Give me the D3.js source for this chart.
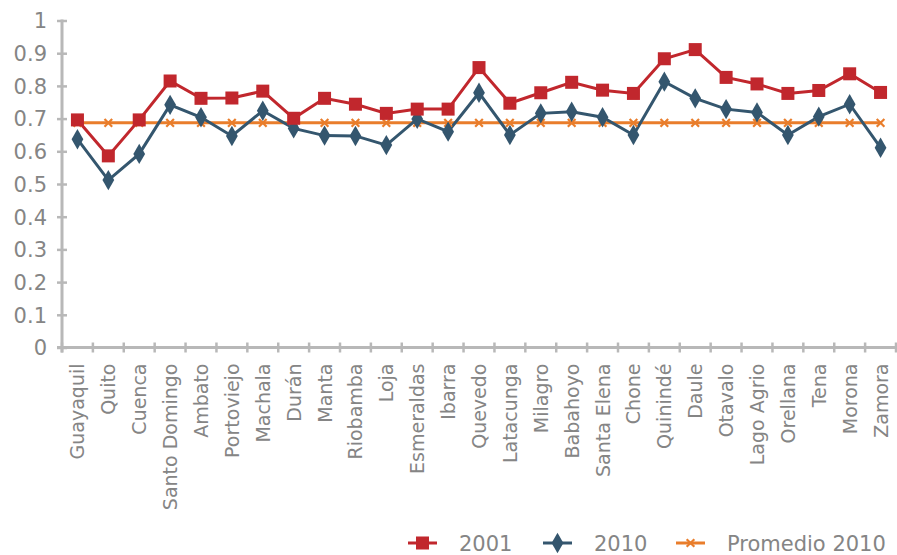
<!DOCTYPE html>
<html>
<head>
<meta charset="utf-8">
<script src="https://cdn.jsdelivr.net/npm/d3@7"></script>
<style>
  html, body { margin: 0; padding: 0; background: #fff; }
  svg { display: block; }
  text { font-family: "DejaVu Sans", sans-serif; fill: #858585; }
</style>
</head>
<body>
<svg id="chart" width="897" height="555"></svg>
<script>
// Cities (x categories)
const cities = ["Guayaquil", "Quito", "Cuenca", "Santo Domingo", "Ambato", "Portoviejo",
  "Machala", "Durán", "Manta", "Riobamba", "Loja", "Esmeraldas", "Ibarra", "Quevedo",
  "Latacunga", "Milagro", "Babahoyo", "Santa Elena", "Chone", "Quinindé", "Daule",
  "Otavalo", "Lago Agrio", "Orellana", "Tena", "Morona", "Zamora"];

// Index values per city
const values2001 = [0.696, 0.586, 0.696, 0.815, 0.762, 0.763, 0.784, 0.701, 0.762, 0.744,
  0.716, 0.729, 0.729, 0.856, 0.747, 0.779, 0.811, 0.787, 0.777, 0.883, 0.911, 0.826,
  0.806, 0.777, 0.786, 0.837, 0.780];
const values2010 = [0.637, 0.512, 0.592, 0.742, 0.704, 0.647, 0.724, 0.670, 0.648, 0.647,
  0.619, 0.699, 0.660, 0.779, 0.650, 0.716, 0.721, 0.704, 0.650, 0.813, 0.762, 0.729,
  0.719, 0.650, 0.706, 0.744, 0.611];
const average2010 = [0.687, 0.687, 0.687, 0.687, 0.687, 0.687, 0.687, 0.687, 0.687, 0.687,
  0.687, 0.687, 0.687, 0.687, 0.687, 0.687, 0.687, 0.687, 0.687, 0.687, 0.687, 0.687,
  0.687, 0.687, 0.687, 0.687, 0.687];

// Y axis tick values and labels
const yTicks = [0, 0.1, 0.2, 0.3, 0.4, 0.5, 0.6, 0.7, 0.8, 0.9, 1];
const yTickLabels = ["0", "0.1", "0.2", "0.3", "0.4", "0.5", "0.6", "0.7", "0.8", "0.9", "1"];

const seriesNames = ["2001", "2010", "Promedio 2010"];

const colors = { red: "#c1272d", blue: "#34566e", orange: "#e97d2b", axis: "#b8b8b8", text: "#858585" };

const svg = d3.select("#chart");
const plotLeft = 62, plotRight = 896, plotTop = 20.5, plotBottom = 347.5;

const x = d3.scaleBand().domain(cities).range([plotLeft, plotRight]).padding(0);
const y = d3.scaleLinear().domain([0, 1]).range([plotBottom, plotTop]);
const cx = c => x(c) + x.bandwidth() / 2;

// Y axis
const yAxis = svg.append("g").attr("transform", `translate(${plotLeft},0)`)
  .call(d3.axisLeft(y).tickValues(yTicks).tickFormat((d, i) => yTickLabels[i])
    .tickSizeInner(5).tickSizeOuter(0).tickPadding(10));
yAxis.select(".domain").remove();
yAxis.selectAll(".tick line").attr("stroke", colors.axis).attr("stroke-width", 2.5)
  .attr("x1", 5).attr("x2", -5);
yAxis.selectAll(".tick text").attr("font-size", 21).attr("fill", colors.text)
  .attr("font-family", "DejaVu Sans, sans-serif").attr("x", -15).attr("dy", "0.35em");

// X axis with ticks at category boundaries
const xAxis = svg.append("g").attr("transform", `translate(0,${plotBottom})`);
const boundaries = cities.map(c => x(c) + x.bandwidth()).concat([plotLeft]);
xAxis.selectAll("line.tk").data(boundaries).join("line")
  .attr("x1", d => d).attr("x2", d => d).attr("y1", -5).attr("y2", 5)
  .attr("stroke", colors.axis).attr("stroke-width", 2.5);
xAxis.selectAll("text").data(cities).join("text")
  .attr("transform", d => `translate(${cx(d) + 7},16) rotate(-90)`)
  .attr("text-anchor", "end").attr("font-size", 19).text(d => d);

// Axis lines
svg.append("line").attr("x1", plotLeft).attr("x2", plotLeft).attr("y1", plotTop - 1).attr("y2", plotBottom + 5)
  .attr("stroke", colors.axis).attr("stroke-width", 3);
svg.append("line").attr("x1", plotLeft - 5).attr("x2", plotRight).attr("y1", plotBottom).attr("y2", plotBottom)
  .attr("stroke", colors.axis).attr("stroke-width", 3);

const line = d3.line().x((d, i) => cx(cities[i])).y(d => y(d));

// Average line
svg.append("path").datum(average2010).attr("d", line).attr("fill", "none")
  .attr("stroke", colors.orange).attr("stroke-width", 3);
// 2010 line
svg.append("path").datum(values2010).attr("d", line).attr("fill", "none")
  .attr("stroke", colors.blue).attr("stroke-width", 3);
// 2001 line
svg.append("path").datum(values2001).attr("d", line).attr("fill", "none")
  .attr("stroke", colors.red).attr("stroke-width", 3);

const diamond = d3.symbol().type(d3.symbolDiamond).size(120);
const crossX = d3.symbol().type(d3.symbolX).size(40);

svg.append("g").selectAll("path").data(average2010).join("path")
  .attr("transform", (d, i) => `translate(${cx(cities[i])},${y(d)})`)
  .attr("d", crossX).attr("fill", "none").attr("stroke", colors.orange).attr("stroke-width", 2.2);
svg.append("g").selectAll("path").data(values2010).join("path")
  .attr("transform", (d, i) => `translate(${cx(cities[i])},${y(d)})`)
  .attr("d", diamond).attr("fill", colors.blue);
svg.append("g").selectAll("rect").data(values2001).join("rect")
  .attr("x", (d, i) => cx(cities[i]) - 6.5).attr("y", d => y(d) - 6.5)
  .attr("width", 13).attr("height", 13).attr("fill", colors.red);

// Legend
const legend = svg.append("g").attr("transform", "translate(408,543)");
const items = [
  { name: seriesNames[0], color: colors.red, kind: "square", dx: 0 },
  { name: seriesNames[1], color: colors.blue, kind: "diamond", dx: 135 },
  { name: seriesNames[2], color: colors.orange, kind: "x", dx: 268 }
];
items.forEach(it => {
  const g = legend.append("g").attr("transform", `translate(${it.dx},0)`);
  g.append("line").attr("x1", 0).attr("x2", 29).attr("y1", 0).attr("y2", 0)
    .attr("stroke", it.color).attr("stroke-width", 3);
  if (it.kind === "square") {
    g.append("rect").attr("x", 14.5 - 6.5).attr("y", -6.5).attr("width", 13).attr("height", 13).attr("fill", it.color);
  } else if (it.kind === "diamond") {
    g.append("path").attr("transform", "translate(14.5,0)").attr("d", diamond).attr("fill", it.color);
  } else {
    g.append("path").attr("transform", "translate(14.5,0)").attr("d", crossX)
      .attr("fill", "none").attr("stroke", it.color).attr("stroke-width", 2.2);
  }
  g.append("text").attr("x", 51).attr("y", 0).attr("dy", "0.36em").attr("font-size", 21).text(it.name);
});
</script>
</body>
</html>
